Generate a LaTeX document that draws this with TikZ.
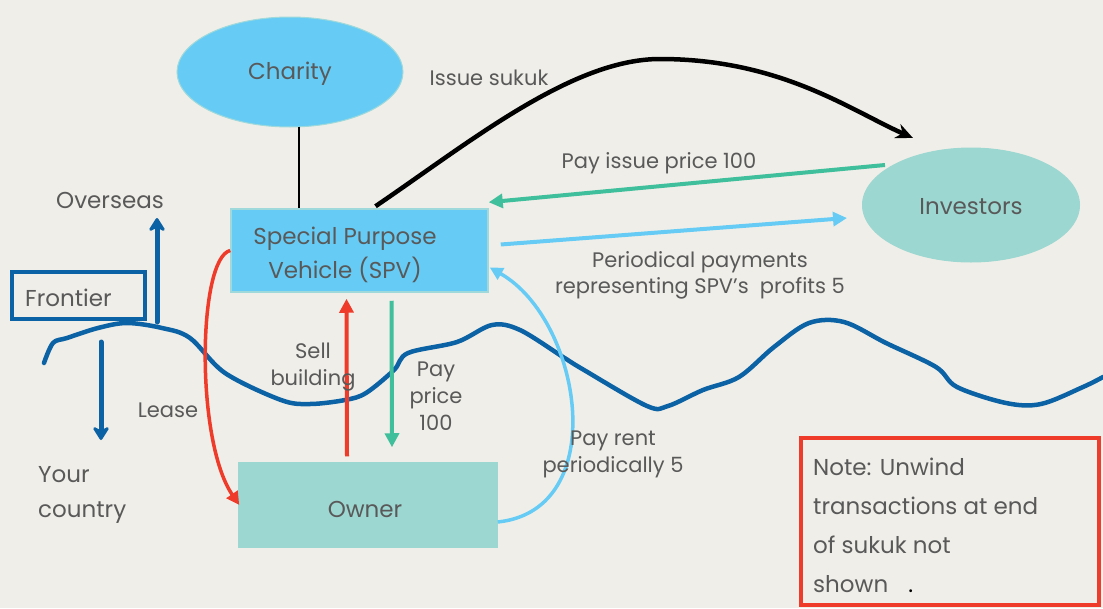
\documentclass[tikz,border=0pt]{standalone}
\usepackage{fontspec}
\setmainfont{Poppins}
\usetikzlibrary{shapes.geometric,arrows.meta,calc}
\definecolor{paper}{HTML}{F0EEE8}
\definecolor{sky}{HTML}{66CCF5}
\definecolor{skyedge}{HTML}{9FD9DC}
\definecolor{aqua}{HTML}{9DD7D1}
\definecolor{mint}{HTML}{3FBF9B}
\definecolor{flame}{HTML}{EE3B2A}
\definecolor{navy}{HTML}{0B62A4}
\definecolor{ink}{HTML}{595959}
\tikzset{
  txt/.style={text=ink, inner sep=0pt, font=\fontsize{21}{27}\selectfont, align=center},
  bigtxt/.style={txt, font=\fontsize{23}{29}\selectfont},
  blob/.style={ellipse, draw=skyedge, line width=1pt, inner sep=0pt},
  box/.style={rectangle, draw=skyedge, line width=1.5pt, inner sep=0pt},
  flow/.style={line width=4pt, -{Triangle[length=14pt,width=14pt]}},
  bigflow/.style={line width=5pt, line cap=round, -{Stealth[length=16pt,width=20pt,round]}},
}
\begin{document}
\begin{tikzpicture}[x=1pt,y=-1pt]
  % canvas
  \fill[paper] (0,0) rectangle (1103,608);
  \useasboundingbox (0,0) rectangle (1103,608);

  % parties
  \node[blob, fill=sky, minimum width=226pt, minimum height=110pt] (charity) at (290,72) {};
  \node[bigtxt] (charitytext) at (290,74) {Charity};
  \node[blob, fill=aqua, draw=aqua, minimum width=217pt, minimum height=114pt] (investors) at (971,205) {};
  \node[bigtxt] (investorstext) at (971,207) {Investors};
  \node[box, fill=sky, minimum width=257pt, minimum height=83pt] (spv) at (359.5,250.5) {};
  \node[bigtxt, font=\fontsize{23}{34}\selectfont] (spvtext) at (345,255) {Special Purpose\\Vehicle (SPV)};
  \node[box, fill=aqua, draw=aqua, minimum width=258pt, minimum height=84pt] (owner) at (368,505) {};
  \node[bigtxt] (ownertext) at (365,509) {Owner};

  % border between the two jurisdictions
  \draw[navy, line width=4.5pt, line cap=round, line join=round]
    plot[smooth, tension=0.55] coordinates {
      (44,363) (53,343) (67,338) (98,328) (127,323) (162,328) (190,338)
      (225,373) (281,400) (310,404) (345,400) (366,393) (394,370) (408,353)
      (457,342) (492,325) (520,330) (563,357) (584,370) (647,406) (668,406)
      (703,390) (739,377) (774,347) (809,323) (844,322) (886,343) (936,367)
      (957,387) (1006,403) (1041,404) (1083,387) (1103,377)};

  \node[draw=navy, line width=3.5pt, minimum width=133pt, minimum height=47pt, inner sep=0pt] (frontier) at (78.5,295.5) {};
  \node[bigtxt, anchor=west] (frontiertext) at (25,298) {Frontier};
  \node[bigtxt] (overseas) at (110,200) {Overseas};
  \node[bigtxt, align=left, anchor=west, font=\fontsize{23}{35}\selectfont] (home) at (38,495) {Your\\country};
  \coordinate (upfoot) at (157,322);
  \coordinate (downfoot) at (101,342);
  \draw[navy, bigflow] (upfoot) -- ++(0,-104);
  \draw[navy, bigflow] (downfoot) -- ++(0,98);

  % charity link
  \coordinate (stem) at (299,0);
  \draw[black, line width=2pt] (charity.south -| stem) ++(0,-1) -- (spv.north -| stem);

  % issue of the sukuk
  \coordinate (sukukend) at (913,138);
  \coordinate (crest) at (660,59);
  \draw[black, line width=4.5pt, -{Stealth[length=17pt,width=15pt]}]
    ($(spv.north)+(16,-2)$) .. controls (470,142) and (572,59) .. (crest)
    .. controls (780,59) and (850,110) .. (sukukend);
  \node[txt] (issue) at (489,78) {Issue sukuk};

  % investor payments
  \draw[mint, flow] ($(investors.center)+(-86,-40)$) -- ($(spv.north east)+(0,-6)$);
  \node[txt] (issueprice) at (659,163) {Pay issue price 100};
  \draw[sky, flow] ($(spv.east)+(12,-6)$) -- ($(investors.west)+(-15,13)$);
  \node[txt, font=\fontsize{21}{26}\selectfont] (profits) at (700,275) {Periodical payments\\representing SPV’s\ \ profits 5};

  % sale and purchase of the building
  \draw[flame, flow] ($(owner.north)+(-21,-6)$) -- ($(spv.south)+(-13,6)$);
  \node[txt, font=\fontsize{21}{27}\selectfont] (sell) at (313,367) {Sell\\building};
  \draw[mint, flow] ($(spv.south)+(32,8)$) -- ($(owner.north)+(24,-15)$);
  \node[txt, font=\fontsize{21}{27}\selectfont] (price) at (436,396) {Pay\\price\\100};

  % lease back and rent
  \draw[flame, line width=3.5pt, -{Triangle[length=13pt,width=13pt]}]
    (spv.west) .. controls (198,258) and (195,440) .. ($(owner.west)+(1,0)$);
  \node[txt] (lease) at (168,410) {Lease};
  \draw[sky, line width=3.5pt, -{Triangle[length=13pt,width=13pt]}]
    ($(owner.east)+(0,17)$) .. controls (612,510) and (582,320) .. ($(spv.east)+(1,17)$);
  \node[txt, font=\fontsize{21}{27}\selectfont] (rent) at (613,454) {Pay rent\\periodically 5};

  % note
  \node[draw=flame, line width=4pt, minimum width=298pt, minimum height=167pt, inner sep=0pt] (note) at (950,521.5) {};
  \node[txt, align=left, anchor=north west, font=\fontsize{23}{39}\selectfont] (notetext) at (813,458)
    {Note: Unwind\\transactions at end\\of sukuk not\\shown \hspace{14pt}{\color{black}.}};
\end{tikzpicture}
\end{document}
